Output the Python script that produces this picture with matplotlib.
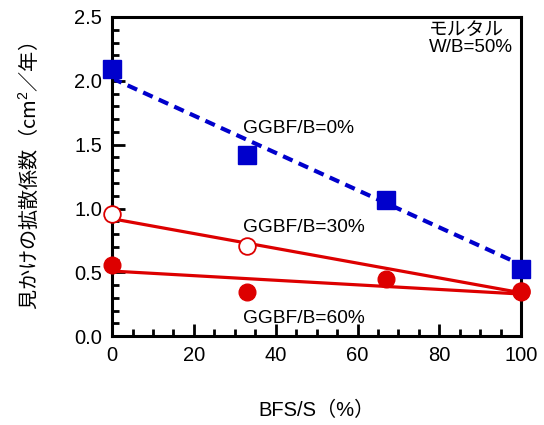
import matplotlib.pyplot as plt
from matplotlib.ticker import MultipleLocator

plt.rcParams['font.family'] = ['Liberation Sans', 'Noto Sans CJK JP', 'DejaVu Sans']
plt.rcParams['mathtext.fontset'] = 'custom'
plt.rcParams['mathtext.rm'] = 'Liberation Sans'
plt.rcParams['mathtext.default'] = 'rm'

# data
bfs = [0, 33, 67, 100]
ggbf0 = [2.09, 1.42, 1.07, 0.525]
ggbf30_x = [0, 33, 100]
ggbf30 = [0.96, 0.71, 0.35]
ggbf60 = [0.555, 0.345, 0.45, 0.345]

# fitted lines (end points)
fit_x = [0, 100]
fit0 = [2.02, 0.56]
fit30 = [0.92, 0.34]
fit60 = [0.51, 0.33]

blue = '#0000cc'
red = '#dd0000'

fig = plt.figure(figsize=(5.44, 4.25), dpi=100)
ax = fig.add_axes([0.206, 0.209, 0.752, 0.751])

ax.plot(fit_x, fit0, color=blue, lw=3, ls=(0, (2.5, 1.6)), zorder=2)
ax.plot(fit_x, fit30, color=red, lw=2.3, zorder=2)
ax.plot(fit_x, fit60, color=red, lw=2.3, zorder=2)

ax.plot(bfs, ggbf0, 's', color=blue, ms=12.5, zorder=3, clip_on=False)
ax.plot(ggbf30_x, ggbf30, 'o', mfc='white', mec=red, mew=1.3, ms=12, zorder=3, clip_on=False)
ax.plot(bfs, ggbf60, 'o', color=red, ms=12, zorder=4, clip_on=False)

ax.set_xlim(0, 100)
ax.set_ylim(0, 2.5)
ax.xaxis.set_major_locator(MultipleLocator(20))
ax.xaxis.set_minor_locator(MultipleLocator(5))
ax.yaxis.set_major_locator(MultipleLocator(0.5))
ax.yaxis.set_minor_locator(MultipleLocator(0.1))
ax.yaxis.set_major_formatter(plt.FormatStrFormatter('%.1f'))
ax.tick_params(which='both', direction='in', width=2, labelsize=14.5, top=False, right=False)
ax.tick_params(which='major', length=9, pad=7)
ax.tick_params(which='minor', length=5)
for s in ax.spines.values():
    s.set_linewidth(2.2)

ax.set_xlabel('BFS/S（%）', fontsize=14.5, labelpad=26)
ax.set_ylabel('見かけの拡散係数（cm$^{2}$／年）', fontsize=14.5, labelpad=24,
              family='Noto Sans CJK JP')

ax.text(77.5, 2.465, 'モルタル\nW/B=50%', fontsize=13.5, va='top', linespacing=1.05)
ax.text(32, 1.59, 'GGBF/B=0%', fontsize=13.8, va='baseline')
ax.text(32, 0.815, 'GGBF/B=30%', fontsize=13.8, va='baseline')
ax.text(32, 0.1, 'GGBF/B=60%', fontsize=13.8, va='baseline')

fig.savefig('out.png', dpi=100)
